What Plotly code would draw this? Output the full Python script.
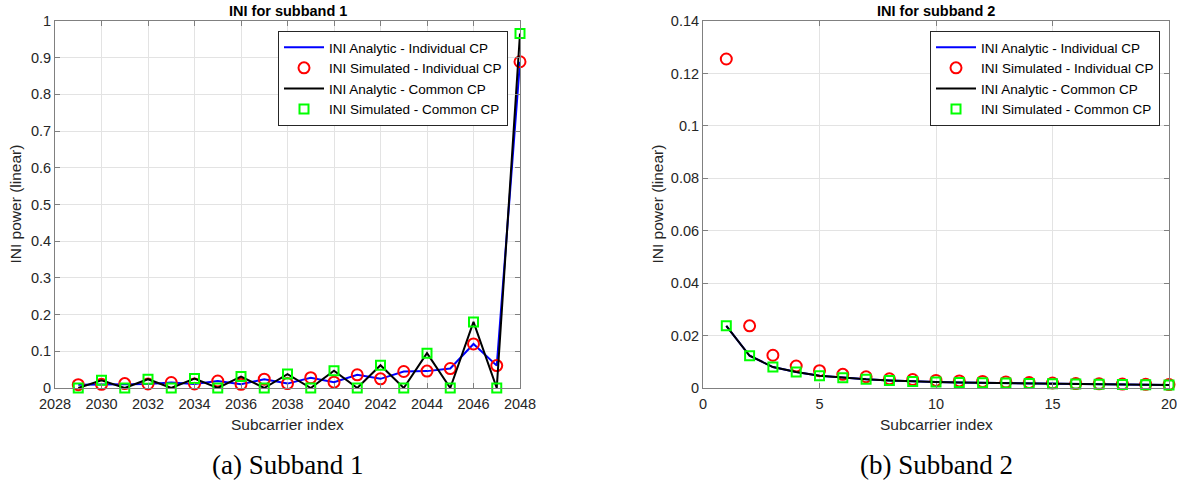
import plotly.graph_objects as go

W, H = 1177, 484

# ---------------- data ----------------
sc1 = list(range(2029, 2049))
ana_ind_1 = [0.009, 0.010, 0.012, 0.011, 0.015, 0.011, 0.019, 0.010, 0.024, 0.012,
             0.028, 0.016, 0.036, 0.025, 0.045, 0.046, 0.053, 0.120, 0.061, 0.889]
sim_ind_1 = [0.009, 0.010, 0.012, 0.011, 0.015, 0.011, 0.019, 0.010, 0.024, 0.012,
             0.028, 0.016, 0.036, 0.025, 0.045, 0.046, 0.053, 0.120, 0.061, 0.889]
ana_com_1 = [0.000, 0.021, 0.000, 0.024, 0.000, 0.026, 0.000, 0.031, 0.000, 0.038,
             0.000, 0.047, 0.000, 0.062, 0.000, 0.095, 0.000, 0.180, 0.000, 0.966]
sim_com_1 = [0.000, 0.021, 0.000, 0.024, 0.000, 0.026, 0.000, 0.031, 0.000, 0.038,
             0.000, 0.047, 0.000, 0.062, 0.000, 0.095, 0.000, 0.180, 0.000, 0.966]

sc2 = list(range(1, 21))
ana_ind_2 = [0.0237, 0.0123, 0.0080, 0.0061, 0.0047, 0.0039, 0.0033, 0.0029, 0.0025, 0.0023,
             0.0021, 0.0020, 0.0019, 0.0017, 0.0016, 0.0015, 0.0014, 0.0013, 0.0012, 0.0011]
sim_ind_2 = [0.1255, 0.0237, 0.0125, 0.0084, 0.0066, 0.0052, 0.0043, 0.0035, 0.0032, 0.0029,
             0.0027, 0.0025, 0.0023, 0.0021, 0.0019, 0.0017, 0.0016, 0.0015, 0.0014, 0.0013]
ana_com_2 = [0.0237, 0.0123, 0.0080, 0.0061, 0.0047, 0.0039, 0.0033, 0.0029, 0.0025, 0.0023,
             0.0021, 0.0020, 0.0019, 0.0017, 0.0016, 0.0015, 0.0014, 0.0013, 0.0012, 0.0011]
sim_com_2 = [0.0237, 0.0123, 0.0080, 0.0061, 0.0047, 0.0039, 0.0033, 0.0029, 0.0025, 0.0023,
             0.0021, 0.0020, 0.0019, 0.0017, 0.0016, 0.0015, 0.0014, 0.0013, 0.0012, 0.0011]

x1_ticks = list(range(2028, 2049, 2))
y1_ticks = [0, 0.1, 0.2, 0.3, 0.4, 0.5, 0.6, 0.7, 0.8, 0.9, 1]
y1_text = ["0", "0.1", "0.2", "0.3", "0.4", "0.5", "0.6", "0.7", "0.8", "0.9", "1"]
x2_ticks = [0, 5, 10, 15, 20]
y2_ticks = [0, 0.02, 0.04, 0.06, 0.08, 0.10, 0.12, 0.14]
y2_text = ["0", "0.02", "0.04", "0.06", "0.08", "0.1", "0.12", "0.14"]

names = ["INI Analytic - Individual CP", "INI Simulated - Individual CP",
         "INI Analytic - Common CP", "INI Simulated - Common CP"]
titles = ["INI for subband 1", "INI for subband 2"]
captions = ["(a) Subband 1", "(b) Subband 2"]
xlabel = "Subcarrier index"
ylabel = "INI power (linear)"

# ---------------- figure ----------------
def px(x):
    return x / W

def py(y):
    return 1 - y / H

fig = go.Figure()

def add_set(x, a_ind, s_ind, a_com, s_com, xa, ya, leg):
    fig.add_trace(go.Scatter(x=x, y=a_ind, mode="lines", name=names[0],
                             line=dict(color="#0000ff", width=2), xaxis=xa, yaxis=ya,
                             legend=leg, cliponaxis=False))
    fig.add_trace(go.Scatter(x=x, y=s_ind, mode="markers", name=names[1],
                             marker=dict(symbol="circle-open", size=11, color="#ff0000",
                                         line=dict(width=2, color="#ff0000")),
                             xaxis=xa, yaxis=ya, legend=leg, cliponaxis=False))
    fig.add_trace(go.Scatter(x=x, y=a_com, mode="lines", name=names[2],
                             line=dict(color="#000000", width=2), xaxis=xa, yaxis=ya,
                             legend=leg, cliponaxis=False))
    fig.add_trace(go.Scatter(x=x, y=s_com, mode="markers", name=names[3],
                             marker=dict(symbol="square-open", size=9, color="#00ff00",
                                         line=dict(width=2, color="#00ff00")),
                             xaxis=xa, yaxis=ya, legend=leg, cliponaxis=False))

add_set(sc1, ana_ind_1, sim_ind_1, ana_com_1, sim_com_1, "x", "y", "legend")
add_set(sc2, ana_ind_2, sim_ind_2, ana_com_2, sim_com_2, "x2", "y2", "legend2")

axis_common = dict(showline=True, mirror="ticks", linecolor="#808080", linewidth=1,
                   ticks="inside", ticklen=5, tickcolor="#808080",
                   showgrid=True, gridcolor="#e3e3e3", gridwidth=1, zeroline=False,
                   automargin=False, ticklabeloverflow="allow",
                   tickfont=dict(family="Liberation Sans, Arial", size=14.5, color="#262626"))

L1, R1 = 55, 520
L2, R2 = 703, 1169
T, B = 21, 388

leg_common = dict(xanchor="right", yanchor="top",
                  bgcolor="white", bordercolor="#262626", borderwidth=1,
                  font=dict(family="Liberation Sans, Arial", size=13.5, color="#000000"),
                  tracegroupgap=0, itemwidth=40)

fig.update_layout(
    width=W, height=H,
    margin=dict(l=0, r=0, t=0, b=0, autoexpand=False),
    paper_bgcolor="white", plot_bgcolor="white",
    xaxis=dict(domain=[px(L1), px(R1)], range=[2028, 2048], tickvals=x1_ticks,
               anchor="y", ticklabelstandoff=3, **axis_common),
    yaxis=dict(domain=[py(B), py(T)], range=[0, 1], tickvals=y1_ticks, ticktext=y1_text,
               anchor="x", **axis_common),
    xaxis2=dict(domain=[px(L2), px(R2)], range=[0, 20], tickvals=x2_ticks,
                anchor="y2", ticklabelstandoff=3, **axis_common),
    yaxis2=dict(domain=[py(B), py(T)], range=[0, 0.14], tickvals=y2_ticks, ticktext=y2_text,
                anchor="x2", **axis_common),
    legend=dict(x=px(508), y=py(31), **leg_common),
    legend2=dict(x=px(1160), y=py(31), **leg_common),
)

ann = []
for i, (l, r) in enumerate([(L1, R1), (L2, R2)]):
    cx = (l + r) / 2
    ylab_off = 40 if i == 0 else 46
    ann.append(dict(text="<b>" + titles[i] + "</b>", x=px(cx), y=py(11), xref="paper", yref="paper",
                    xanchor="center", yanchor="middle", showarrow=False,
                    font=dict(family="Liberation Sans, Arial", size=14.5, color="#000000")))
    ann.append(dict(text=xlabel, x=px(cx), y=py(424), xref="paper", yref="paper",
                    xanchor="center", yanchor="middle", showarrow=False,
                    font=dict(family="Liberation Sans, Arial", size=15.5, color="#262626")))
    ann.append(dict(text=ylabel, x=px(l - ylab_off), y=py((T + B) / 2), xref="paper", yref="paper",
                    xanchor="center", yanchor="middle", showarrow=False, textangle=-90,
                    font=dict(family="Liberation Sans, Arial", size=15.5, color="#262626")))
    ann.append(dict(text=captions[i], x=px(cx), y=py(465), xref="paper", yref="paper",
                    xanchor="center", yanchor="middle", showarrow=False,
                    font=dict(family="Liberation Serif, serif", size=27, color="#000000")))
fig.update_layout(annotations=ann)

fig.write_html("out.html",
               config={"displayModeBar": False},
               post_script="document.body.style.margin='0px';"
                           "document.body.style.padding='0px';"
                           "document.body.style.overflow='hidden';")
